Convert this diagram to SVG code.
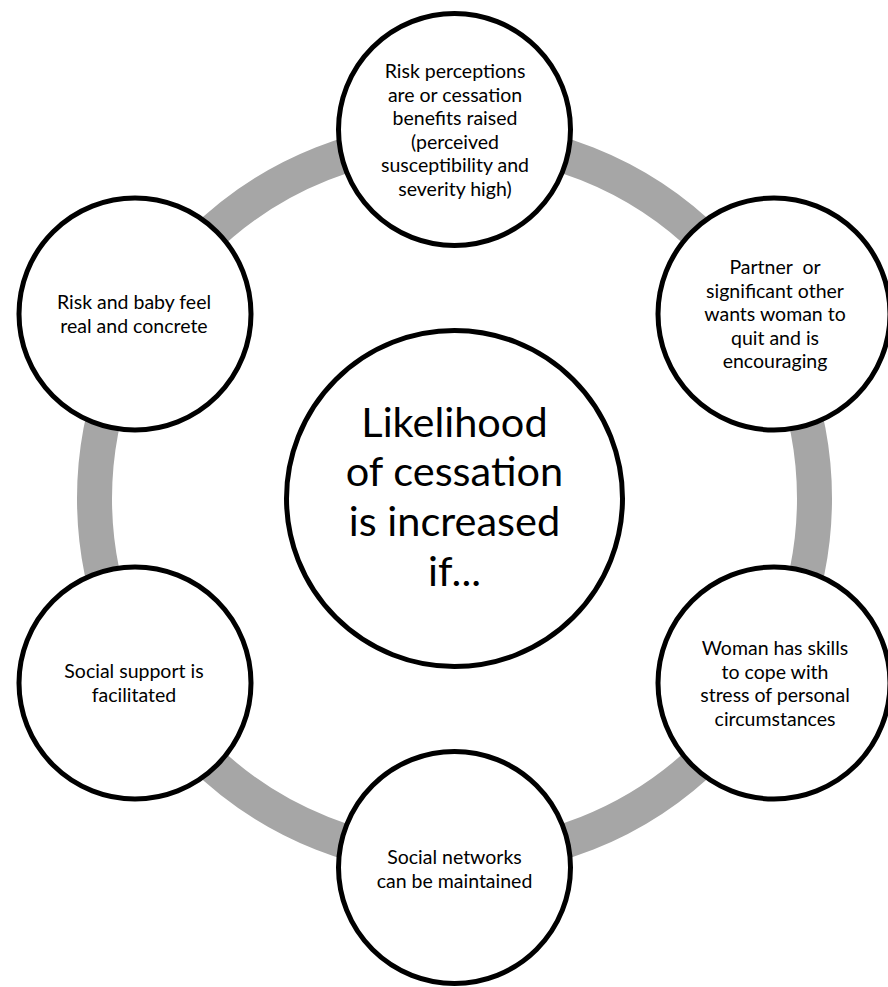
<svg xmlns="http://www.w3.org/2000/svg" width="888" height="987" viewBox="0 0 888 987">
  <style>
    .node { fill: #ffffff; stroke: #000000; stroke-width: 5; }
    .ring { fill: none; stroke: #a6a6a6; stroke-width: 35; }
    .lbl { font-family: Lato, "Open Sans", sans-serif; font-size: 19.5px; fill: #000000; text-anchor: middle; }
    .hub { font-family: Lato, "Open Sans", sans-serif; font-size: 41.5px; fill: #000000; text-anchor: middle; }
  </style>
  <rect width="888" height="987" fill="#ffffff"/>

  <!-- connecting ring behind the nodes -->
  <g id="connectors">
    <circle class="ring" cx="454.5" cy="498.5" r="360"/>
  </g>

  <g id="hub">
    <circle class="node" cx="454.5" cy="498.5" r="168"/>
    <text class="hub" x="454.5" y="437">Likelihood</text>
    <text class="hub" x="454.5" y="486">of cessation</text>
    <text class="hub" x="454.5" y="536">is increased</text>
    <text class="hub" x="454.5" y="586">if...</text>
  </g>

  <g id="risk-perceptions">
    <circle class="node" cx="454.5" cy="129.5" r="116"/>
    <text class="lbl" x="455" y="78">Risk perceptions</text>
    <text class="lbl" x="455" y="101.5">are or cessation</text>
    <text class="lbl" x="455" y="125">benefits raised</text>
    <text class="lbl" x="455" y="148.5">(perceived</text>
    <text class="lbl" x="455" y="172">susceptibility and</text>
    <text class="lbl" x="455" y="195.5">severity high)</text>
  </g>

  <g id="partner">
    <circle class="node" cx="774" cy="314" r="116"/>
    <text class="lbl" x="775" y="274" xml:space="preserve">Partner  or</text>
    <text class="lbl" x="775" y="297.5">significant other</text>
    <text class="lbl" x="775" y="321">wants woman to</text>
    <text class="lbl" x="775" y="344.5">quit and is</text>
    <text class="lbl" x="775" y="368">encouraging</text>
  </g>

  <g id="coping-skills">
    <circle class="node" cx="774" cy="683" r="116"/>
    <text class="lbl" x="775" y="655">Woman has skills</text>
    <text class="lbl" x="775" y="678.5">to cope with</text>
    <text class="lbl" x="775" y="702">stress of personal</text>
    <text class="lbl" x="775" y="725.5">circumstances</text>
  </g>

  <g id="social-networks">
    <circle class="node" cx="454.5" cy="867.5" r="116"/>
    <text class="lbl" x="454.5" y="864">Social networks</text>
    <text class="lbl" x="454.5" y="887.5">can be maintained</text>
  </g>

  <g id="social-support">
    <circle class="node" cx="135" cy="683" r="116"/>
    <text class="lbl" x="134" y="678">Social support is</text>
    <text class="lbl" x="134" y="701.5">facilitated</text>
  </g>

  <g id="risk-real">
    <circle class="node" cx="135" cy="314" r="116"/>
    <text class="lbl" x="134" y="309">Risk and baby feel</text>
    <text class="lbl" x="134" y="332.5">real and concrete</text>
  </g>
</svg>
